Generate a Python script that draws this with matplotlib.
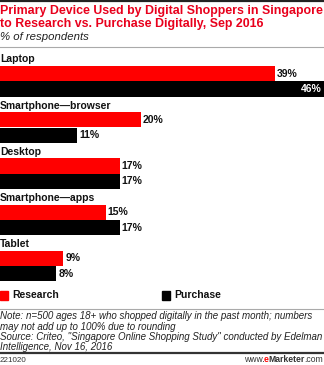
import matplotlib
matplotlib.use("Agg")
import matplotlib.pyplot as plt
from matplotlib.lines import Line2D

# データ
categories = ["Laptop", "Smartphone\u2014browser", "Desktop", "Smartphone\u2014apps", "Tablet"]
research = [39, 20, 17, 15, 9]
purchase = [46, 11, 17, 17, 8]
series_names = ["Research", "Purchase"]

RED = "#ff0000"
BLACK = "#000000"
W, H = 324, 365

plt.rcParams["font.family"] = ["Liberation Sans", "DejaVu Sans"]

fig = plt.figure(figsize=(W / 100, H / 100), dpi=100)


def fy(px):
    # ピクセル位置 -> figure座標
    return 1 - px / H


# 棒グラフ用の軸(ピクセル単位で配置)
top, bottom = 55, 285
ax = fig.add_axes([0, fy(bottom), 1, (bottom - top) / H])
ax.set_xlim(0, 46)
ax.set_ylim(bottom, top)
ax.axis("off")

LBL = 7.5
step = 46.2
bar_h = 15.4
first = 73.6
for i, cat in enumerate(categories):
    yr = first + step * i
    yp = yr + bar_h
    ax.barh(yr, research[i], height=bar_h, color=RED, edgecolor="none")
    ax.barh(yp, purchase[i], height=bar_h, color=BLACK, edgecolor="none")
    ax.text(0, yr - bar_h / 2 - 6.5, cat, fontsize=LBL, fontweight="bold",
            ha="left", va="center", color="#111111")
    for y, v in ((yr, research[i]), (yp, purchase[i])):
        if v >= 44:
            ax.text(v - 0.4, y, f"{v}%", fontsize=LBL, fontweight="bold",
                    ha="right", va="center", color="white")
        else:
            ax.text(v + 0.3, y, f"{v}%", fontsize=LBL, fontweight="bold",
                    ha="left", va="center", color="#111111")

# タイトル
fig.text(0, fy(11), "Primary Device Used by Digital Shoppers in Singapore",
         fontsize=8.9, fontweight="bold", color="#e8001c", va="center")
fig.text(0, fy(24.5), "to Research vs. Purchase Digitally, Sep 2016",
         fontsize=8.9, fontweight="bold", color="#e8001c", va="center")
fig.text(0, fy(37), "% of respondents", fontsize=8.2, style="italic",
         color="#222222", va="center")

# 罫線
fig.add_artist(Line2D([0, 1], [fy(1), fy(1)], color="#222222", lw=1.6))
fig.add_artist(Line2D([0, 1], [fy(47), fy(47)], color="#aaaaaa", lw=0.8))
fig.add_artist(Line2D([0, 1], [fy(309), fy(309)], color="#aaaaaa", lw=0.8))
fig.add_artist(Line2D([0, 1], [fy(353), fy(353)], color="#333333", lw=1.6))

# 凡例
for x0, name, c in ((0, series_names[0], RED), (162, series_names[1], BLACK)):
    fig.patches.append(plt.Rectangle((x0 / W, fy(299.5)), 8 / W, 8.5 / H,
                                     transform=fig.transFigure, color=c))
    fig.text((x0 + 12) / W, fy(295.5), name, fontsize=LBL, fontweight="bold",
             color="#111111", va="center")

# 注記
notes = [
    "Note: n=500 ages 18+ who shopped digitally in the past month; numbers",
    "may not add up to 100% due to rounding",
    "Source: Criteo, \"Singapore Online Shopping Study\" conducted by Edelman",
    "Intelligence, Nov 16, 2016",
]
for k, line in enumerate(notes):
    fig.text(0, fy(316 + 10.5 * k), line, fontsize=7.0, style="italic",
             color="#222222", va="center")

# フッター
fig.text(0, fy(360), "221020", fontsize=5.8, color="#333333", va="center")

# www.eMarketer.com を右から順に並べる
renderer = fig.canvas.get_renderer()
parts = [(".com", "normal", "#333333"), ("Marketer", "bold", "#333333"),
         ("e", "bold", RED), ("www.", "normal", "#333333")]
x_right = 323
for s, wt, c in parts:
    t = fig.text(x_right / W, fy(360), s, fontsize=6.2, fontweight=wt,
                 color=c, ha="right", va="center")
    bb = t.get_window_extent(renderer)
    x_right -= bb.width - 0.5

fig.savefig("out.png", dpi=100)
